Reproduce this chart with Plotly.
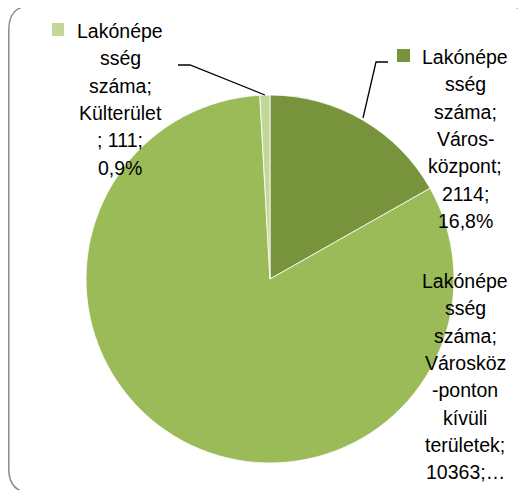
import plotly.graph_objects as go

categories = ["Városközpont", "Városközponton kívüli területek", "Külterület"]
values = [2114, 10363, 111]
colors = ["#77933C", "#9BBB59", "#C4D79B"]

label_lines = {
    "Városközpont": ["Lakónépe", "sség", "száma;", "Város-", "központ;", "2114;", "16,8%"],
    "Városközponton kívüli területek": ["Lakónépe", "sség", "száma;", "Városköz", "-ponton", "kívüli", "területek;", "10363;…"],
    "Külterület": ["Lakónépe", "sség", "száma;", "Külterület", "; 111;", "0,9%"],
}

W, H = 526, 490
OFF = 8  # page body margin compensation
def px(x): return (x - OFF) / W
def py(y): return 1 - (y - OFF) / H

cx, cy, r = 270, 279, 184

fig = go.Figure(go.Pie(
    labels=categories, values=values, sort=False, direction="clockwise", rotation=0,
    marker=dict(colors=colors, line=dict(color="white", width=0.8)),
    textinfo="none", hoverinfo="none", showlegend=False,
    domain=dict(x=[px(cx - r), px(cx + r)], y=[py(cy + r), py(cy - r)]),
))

font = dict(family="Liberation Sans, Arial, sans-serif", size=19.5, color="#000000")
label_pos = {
    "Külterület": (120, 31),
    "Városközpont": (465, 57),
    "Városközponton kívüli területek": (465, 281),
}
pitch = 27.3
annotations = []
for cat, lines in label_lines.items():
    x0, y0 = label_pos[cat]
    for i, t in enumerate(lines):
        annotations.append(dict(x=px(x0), y=py(y0 + i * pitch), xref="paper", yref="paper",
                                text=t, showarrow=False, font=font,
                                xanchor="center", yanchor="middle"))

def rrect(x0, y0, x1, y1, rad):
    return (f"M {px(x0+rad)} {py(y0)} L {px(x1-rad)} {py(y0)} "
            f"Q {px(x1)} {py(y0)} {px(x1)} {py(y0+rad)} "
            f"L {px(x1)} {py(y1-rad)} Q {px(x1)} {py(y1)} {px(x1-rad)} {py(y1)} "
            f"L {px(x0+rad)} {py(y1)} Q {px(x0)} {py(y1)} {px(x0)} {py(y1-rad)} "
            f"L {px(x0)} {py(y0+rad)} Q {px(x0)} {py(y0)} {px(x0+rad)} {py(y0)} Z")

shapes = [
    dict(type="path", xref="paper", yref="paper", path=rrect(8.8, 5.5, 529, 493, 24),
         line=dict(color="#8C8C8C", width=1.5), fillcolor="rgba(0,0,0,0)"),
    # leader lines
    dict(type="path", xref="paper", yref="paper",
         path=f"M {px(363)} {py(118)} L {px(376)} {py(62)} L {px(388)} {py(62)}",
         line=dict(color="black", width=1.3)),
    dict(type="path", xref="paper", yref="paper",
         path=f"M {px(265)} {py(95)} L {px(190)} {py(65)} L {px(178)} {py(65)}",
         line=dict(color="black", width=1.3)),
    # legend keys
    dict(type="rect", xref="paper", yref="paper", x0=px(52), x1=px(64), y0=py(36), y1=py(23),
         fillcolor=colors[2], line=dict(width=0)),
    dict(type="rect", xref="paper", yref="paper", x0=px(397), x1=px(410), y0=py(62), y1=py(49),
         fillcolor=colors[0], line=dict(width=0)),
]

fig.update_layout(
    width=W, height=H, margin=dict(l=0, r=0, t=0, b=0),
    paper_bgcolor="white", plot_bgcolor="white",
    annotations=annotations, shapes=shapes,
)
fig.write_html("out.html")
